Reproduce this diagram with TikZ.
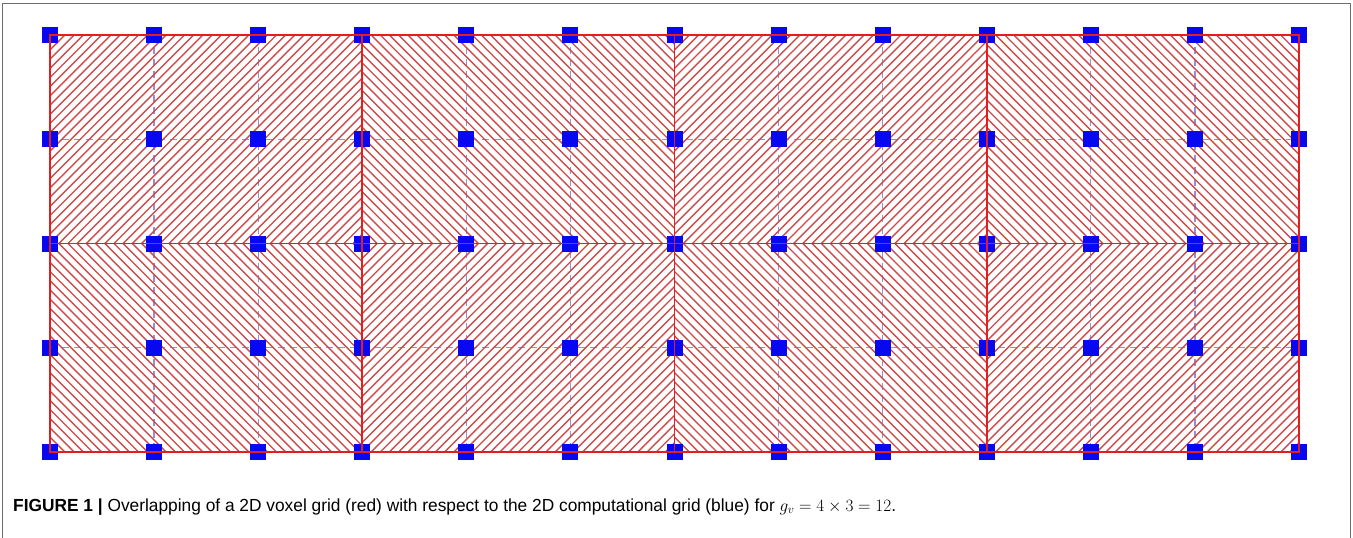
\documentclass[tikz,border=0pt]{standalone}
\usepackage{fontspec}
\setmainfont{Liberation Sans}
\newfontfamily\capfont[FakeStretch=0.99]{Liberation Sans}
\definecolor{gridred}{RGB}{228,30,30}
\definecolor{hatchred}{RGB}{205,75,75}
\definecolor{nodeblue}{RGB}{8,8,240}
\definecolor{dashblue}{RGB}{150,140,215}
\definecolor{framegray}{RGB}{110,110,110}
\tikzset{
  bsq/.style={rectangle, fill=nodeblue, draw=none, minimum size=16pt, inner sep=0pt},
  dashline/.style={dashblue, line width=1.2pt, dash pattern=on 7pt off 5pt},
  hatchline/.style={hatchred, line width=1.4pt},
  redline/.style={gridred, line width=1.9pt},
  caption/.style={anchor=base west, inner sep=0pt, font=\capfont\fontsize{17.5}{20}\selectfont}
}
\begin{document}
\begin{tikzpicture}[x=1pt,y=-1pt]
\useasboundingbox (0,0) rectangle (1353,538);
\draw[framegray, line width=1.2pt] (2.5,538) -- (2.5,3.5) -- (1350.5,3.5) -- (1350.5,538);
\foreach \i in {0,...,12} {
  \foreach \j in {0,...,4} {
    \coordinate (p-\i-\j) at ({50+104.083*\i},{35+104.25*\j});
  }
}
% blue computational grid (dashed)
\foreach \j in {1,3} { \draw[dashline] (p-0-\j) -- (p-12-\j); }
\foreach \i in {1,2,4,5,7,8,10,11} { \draw[dashline] (p-\i-0) -- (p-\i-4); }
% hatched voxels
\foreach \c in {0,...,3} {
  \foreach \r in {0,1} {
    \pgfmathtruncatemacro{\xa}{3*\c}
    \pgfmathtruncatemacro{\ya}{2*\r}
    \pgfmathtruncatemacro{\parity}{mod(\c+\r,2)}
    \begin{scope}[shift={(p-\xa-\ya)}]
      \clip (0,0) rectangle (312.25,208.5);
      \foreach \k in {0,...,58} {
        \pgfmathsetmacro{\s}{-212+9.2*\k}
        \ifnum\parity=0
          \draw[hatchline] (\s,208.5) -- ++(208.5,-208.5);
        \else
          \draw[hatchline] (\s,0) -- ++(208.5,208.5);
        \fi
      }
    \end{scope}
  }
}
% blue grid points
\foreach \i in {0,...,12} {
  \foreach \j in {0,...,4} {
    \node[bsq] (b-\i-\j) at (p-\i-\j) {};
  }
}
% red voxel grid
\draw[redline] (b-0-0.center) rectangle (b-12-4.center);
\draw[redline] (b-0-2.center) -- (b-12-2.center);
\foreach \i in {3,6,9} { \draw[redline] (b-\i-0.center) -- (b-\i-4.center); }
% caption
\node[caption] (cap) at (13,511) {\textbf{FIGURE 1 |} Overlapping of a 2D voxel grid (red) with respect to the 2D computational grid (blue) for $g_v = 4 \times 3 = 12$.};
\end{tikzpicture}
\end{document}
